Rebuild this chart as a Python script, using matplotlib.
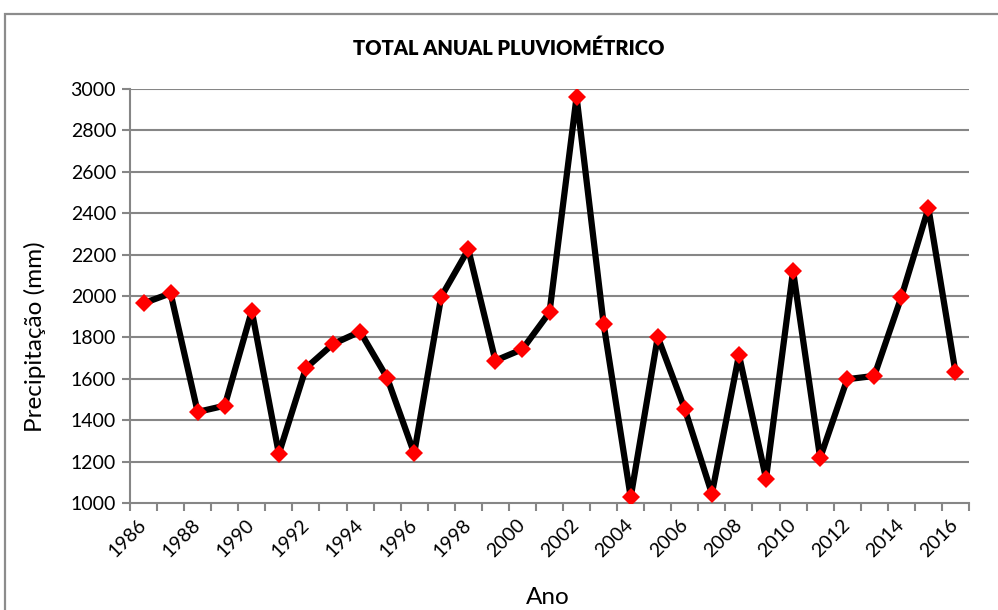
# Total anual pluviometrico - line chart

import matplotlib
matplotlib.use('Agg')
import matplotlib.pyplot as plt
from matplotlib.patches import Rectangle
import numpy as np

plt.rcParams['font.family'] = ['Lato', 'DejaVu Sans']

anos = list(range(1986, 2017))
precip = [1965, 2013, 1440, 1470, 1928, 1238, 1652, 1768, 1828, 1605,
          1240, 1997, 2225, 1688, 1743, 1921, 2962, 1865, 1028, 1802,
          1453, 1045, 1715, 1118, 2122, 1218, 1598, 1614, 1995, 2425, 1632]
yticks = [1000, 1200, 1400, 1600, 1800, 2000, 2200, 2400, 2600, 2800, 3000]

GRID = '#868686'
W, H = 998, 610

fig = plt.figure(figsize=(W / 100, H / 100), dpi=100)
ax = fig.add_axes([130 / W, 1 - 503 / H, (969 - 130) / W, (503 - 89) / H])

# chart area border (left / top visible)
fig.patches.append(Rectangle((5 / W, -0.1), 1.2, 1 - 14 / H + 0.1,
                             transform=fig.transFigure, fill=False,
                             edgecolor='#8c8c8c', linewidth=1.6, zorder=0))

x = np.arange(len(anos))
ax.plot(x, precip, color='black', linewidth=4.5, zorder=3,
        marker='D', markersize=9, markerfacecolor='#ff0000',
        markeredgecolor='#ff0000', markeredgewidth=0, solid_joinstyle='round')

ax.set_xlim(-0.5, len(anos) - 0.5)
ax.set_ylim(1000, 3000)
ax.set_yticks(yticks)
for v in yticks[1:]:
    ax.axhline(v, color=GRID, linewidth=1.5, zorder=1)

# category boundaries as tick marks, labels every 2 years
ax.set_xticks(np.arange(len(anos) + 1) - 0.5)
ax.set_xticklabels([])
ax.set_xticks(x[::2], minor=True)
ax.set_xticklabels([str(a) for a in anos[::2]], minor=True,
                   rotation=45, ha='right', va='center',
                   rotation_mode='anchor', fontsize=14)
ax.tick_params(axis='x', which='major', length=6, width=1.5, color=GRID,
               direction='out')
ax.tick_params(axis='x', which='minor', length=0, pad=14)
ax.tick_params(axis='y', length=6, width=1.5, color=GRID, labelsize=14, pad=4)

for s in ['top', 'right']:
    ax.spines[s].set_visible(False)
for s in ['left', 'bottom']:
    ax.spines[s].set_color(GRID)
    ax.spines[s].set_linewidth(1.5)

fig.text(509 / W, 1 - 48 / H, 'TOTAL ANUAL PLUVIOMÉTRICO', ha='center',
         va='center', fontsize=14.5, fontweight='heavy')
fig.text(35 / W, 1 - 337 / H, 'Precipitação (mm)', ha='center', va='center',
         rotation=90, fontsize=17.5)
fig.text(548 / W, 1 - 597 / H, 'Ano', ha='center', va='center', fontsize=17.5)

fig.savefig('out.png', dpi=100)
